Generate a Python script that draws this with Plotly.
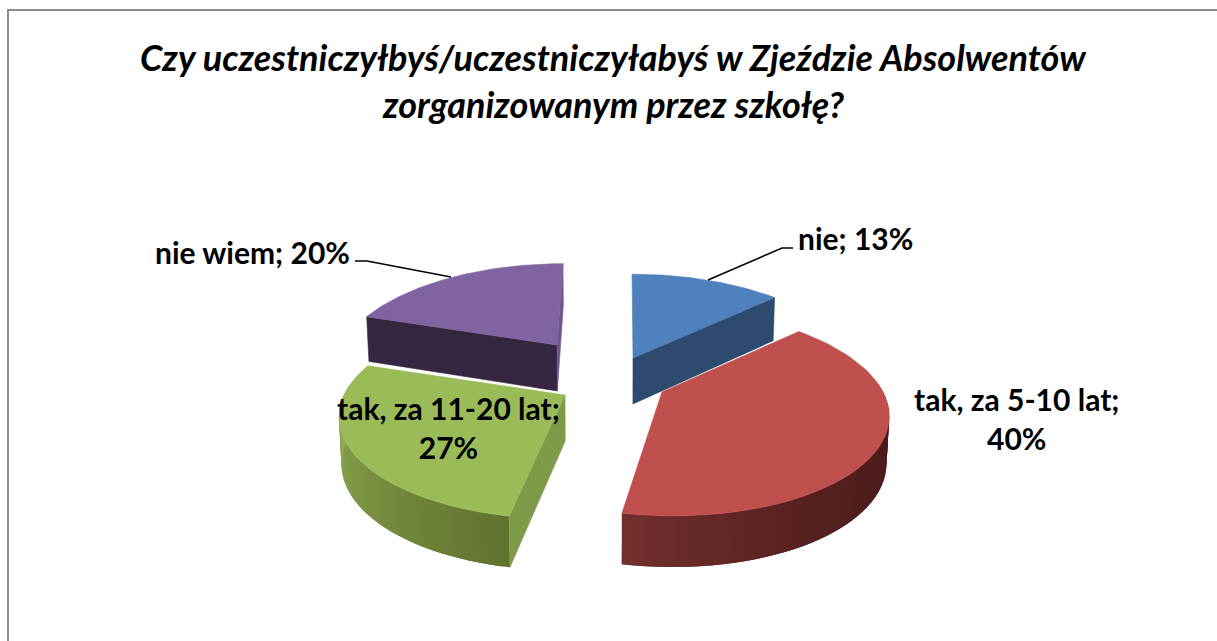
import math
import plotly.graph_objects as go

# ---- data ----
categories = ["nie", "tak, za 5-10 lat", "tak, za 11-20 lat", "nie wiem"]
values = [13, 40, 27, 20]
top_colors = ["#4F81BD", "#C0504D", "#9BBB59", "#8064A2"]
cut_colors = ["#2E4A6F", "#4F1F1D", "#7E9A49", "#35273F"]
rim_left = ["#2E4A6F", "#75302F", "#96B557", "#35273F"]
rim_right = ["#2E4A6F", "#4A1C1B", "#62722F", "#35273F"]
title_lines = ["Czy uczestniczyłbyś/uczestniczyłabyś w Zjeździe Absolwentów",
               "zorganizowanym przez szkołę?"]

FONT = "Lato"
W, H = 1217, 641
RX, RY, P = 221.0, 100.0, 0.193
DEPTH = 46.0
apexes = [(633, 358), (662, 392), (565, 395), (557, 345)]
vanish_x = [627.0, 615.0, 585.0, 594.0]
radius_scale = [1.0, 1.0, 1.0, 0.97]
cut_faces = [("end",), (), ("start",), ("start", "end")]
N = 60


def project(i, theta):
    ax, ay = apexes[i]
    u, v = radius_scale[i] * math.sin(theta), radius_scale[i] * math.cos(theta)
    s = 1 / (1 + P * math.cos(theta))
    return ax + RX * u * s + (ax - vanish_x[i]) * (s - 1), ay - RY * v * s, s


def lower(i, pt):
    x, y, s = pt
    return vanish_x[i] + (x - vanish_x[i]) * 0.99, y + DEPTH * math.sqrt(s), s


def mix(a, b, t):
    ca = [int(a[k:k + 2], 16) for k in (1, 3, 5)]
    cb = [int(b[k:k + 2], 16) for k in (1, 3, 5)]
    return "rgb(%d,%d,%d)" % tuple(round(x + (y - x) * t) for x, y in zip(ca, cb))


def poly(points, color, width=0.6):
    xs = [p[0] for p in points] + [points[0][0]]
    ys = [p[1] for p in points] + [points[0][1]]
    return go.Scatter(x=xs, y=ys, mode="lines", fill="toself", fillcolor=color,
                      line=dict(color=color, width=width), hoverinfo="skip", showlegend=False)


fig = go.Figure()
total = sum(values)
start = 0.0
spans = []
for val in values:
    spans.append((start, start + val / total * 2 * math.pi))
    start = spans[-1][1]

for i in [3, 0, 1, 2]:
    a0, a1 = spans[i]
    ax, ay = apexes[i]
    apex = (ax, ay, 1.0)
    # outer wall, shaded band by band; each band runs on under the next so no seams show
    thetas = [a0 + (a1 - a0) * k / N for k in range(N + 1)]
    front = [t for t in thetas if math.cos(t) < 0.12]
    if len(front) > 1:
        lo, hi = min(front), max(front)
        for k in range(len(front) - 1):
            upper = [project(i, t) for t in front[k:k + 3]]
            shade = mix(rim_right[i], rim_left[i], (front[k] - lo) / (hi - lo))
            if i == 1:
                # the red wall runs left-going as the angle grows, light end at the left
                shade = mix(rim_right[i], rim_left[i], ((front[k] - lo) / (hi - lo)) ** 2.5)
            pts = [p[:2] for p in upper] + [lower(i, p)[:2] for p in reversed(upper)]
            fig.add_trace(poly(pts, shade, width=0))
    # radial cut faces
    for side in cut_faces[i]:
        rim = project(i, a0 if side == "start" else a1)
        color = "#6E5590" if (i == 3 and side == "end") else cut_colors[i]
        fig.add_trace(poly([apex[:2], rim[:2], lower(i, rim)[:2], lower(i, apex)[:2]], color))
    # top face
    pts = [apex[:2]] + [project(i, t)[:2] for t in thetas]
    fig.add_trace(poly(pts, top_colors[i]))

# leader lines
leaders = [([793, 782, 708], [248, 248, 280]), ([355, 367, 451], [261, 261, 277])]
for lx, ly in leaders:
    fig.add_trace(go.Scatter(x=lx, y=ly, mode="lines", line=dict(color="black", width=1.6),
                             hoverinfo="skip", showlegend=False))

labels = [f"{c}; {v}%" for c, v in zip(categories, values)]
label_pos = [
    (855, 238, labels[0]),
    (1016, 418, labels[1].replace("; ", ";<br>")),
    (448, 427, labels[2].replace("; ", ";<br>")),
    (252, 252, labels[3]),
]
for x, y, text in label_pos:
    fig.add_annotation(x=x, y=y, text=f"<b>{text}</b>", showarrow=False, align="center",
                       font=dict(family=FONT, size=30, color="black"))
for y, line in zip((57, 104), title_lines):
    fig.add_annotation(x=613, y=y, text=f"<b><i>{line}</i></b>", showarrow=False,
                       font=dict(family=FONT, size=36, color="black"))

# chart frame
fig.add_trace(go.Scatter(x=[8, 8, 1217], y=[641, 10, 10], mode="lines",
                         line=dict(color="#8C8C8C", width=2), hoverinfo="skip", showlegend=False))

fig.update_layout(width=W, height=H, margin=dict(l=0, r=0, t=0, b=0), showlegend=False,
                  paper_bgcolor="white", plot_bgcolor="white",
                  xaxis=dict(range=[0, W], visible=False, fixedrange=True),
                  yaxis=dict(range=[H, 0], visible=False, fixedrange=True))
fig.write_html("out.html", post_script="document.body.style.margin='0';document.body.style.overflow='hidden';",
               config={"displayModeBar": False})
